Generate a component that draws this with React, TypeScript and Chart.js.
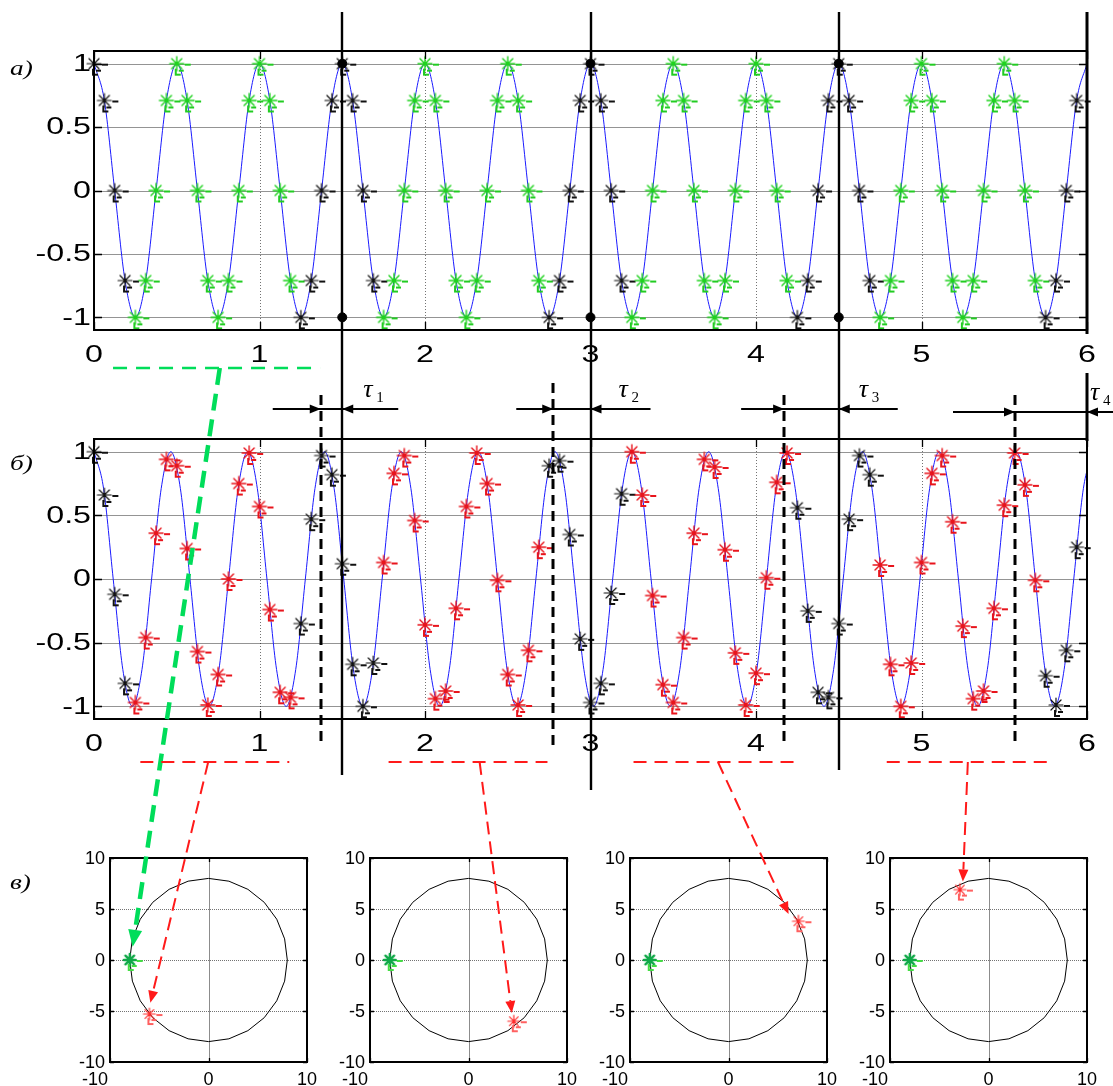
import React, { useEffect, useRef } from "react";
import { Chart, registerables } from "chart.js";

Chart.register(...registerables);

const W = 1113;
const H = 1086;

// ---------- data ----------
// sampling instants (s) shared by the markers of both signal plots
const sampleT = [
  0, 0.0625, 0.125, 0.1875, 0.25, 0.3125, 0.375, 0.4375,
  0.5, 0.5625, 0.625, 0.6875, 0.75, 0.8125, 0.875, 0.9375,
  1, 1.0625, 1.125, 1.1875, 1.25, 1.3125, 1.375, 1.4375,
  1.5, 1.5625, 1.625, 1.6875, 1.75, 1.8125, 1.875, 1.9375,
  2, 2.0625, 2.125, 2.1875, 2.25, 2.3125, 2.375, 2.4375,
  2.5, 2.5625, 2.625, 2.6875, 2.75, 2.8125, 2.875, 2.9375,
  3, 3.0625, 3.125, 3.1875, 3.25, 3.3125, 3.375, 3.4375,
  3.5, 3.5625, 3.625, 3.6875, 3.75, 3.8125, 3.875, 3.9375,
  4, 4.0625, 4.125, 4.1875, 4.25, 4.3125, 4.375, 4.4375,
  4.5, 4.5625, 4.625, 4.6875, 4.75, 4.8125, 4.875, 4.9375,
  5, 5.0625, 5.125, 5.1875, 5.25, 5.3125, 5.375, 5.4375,
  5.5, 5.5625, 5.625, 5.6875, 5.75, 5.8125, 5.875, 5.9375,
  6,
];

// plot a): reference signal (samples lie on the curve)
const topSignal = [
  1, 0.71, 0, -0.71, -1, -0.71, 0, 0.71,
  1, 0.71, 0, -0.71, -1, -0.71, 0, 0.71,
  1, 0.71, 0, -0.71, -1, -0.71, 0, 0.71,
  1, 0.71, 0, -0.71, -1, -0.71, 0, 0.71,
  1, 0.71, 0, -0.71, -1, -0.71, 0, 0.71,
  1, 0.71, 0, -0.71, -1, -0.71, 0, 0.71,
  1, 0.71, 0, -0.71, -1, -0.71, 0, 0.71,
  1, 0.71, 0, -0.71, -1, -0.71, 0, 0.71,
  1, 0.71, 0, -0.71, -1, -0.71, 0, 0.71,
  1, 0.71, 0, -0.71, -1, -0.71, 0, 0.71,
  1, 0.71, 0, -0.71, -1, -0.71, 0, 0.71,
  1, 0.71, 0, -0.71, -1, -0.71, 0, 0.71,
  1,
];

// plot б): samples of the received signal
const bottomSamples = [
  1, 0.66, -0.12, -0.82, -0.97, -0.46, 0.36, 0.94,
  0.89, 0.24, -0.57, -0.99, -0.75, 0, 0.75, 0.99,
  0.57, -0.24, -0.89, -0.93, -0.35, 0.47, 0.97, 0.82,
  0.12, -0.67, -1, -0.66, 0.13, 0.83, 0.97, 0.46,
  -0.36, -0.94, -0.88, -0.23, 0.57, 0.99, 0.75, -0.01,
  -0.75, -0.99, -0.56, 0.25, 0.89, 0.93, 0.35, -0.47,
  -0.97, -0.82, -0.11, 0.67, 1, 0.66, -0.13, -0.83,
  -0.97, -0.46, 0.36, 0.94, 0.88, 0.23, -0.58, -0.99,
  -0.74, 0.01, 0.76, 0.99, 0.56, -0.25, -0.89, -0.93,
  -0.35, 0.47, 0.97, 0.82, 0.11, -0.67, -1, -0.66,
  0.13, 0.83, 0.97, 0.45, -0.37, -0.94, -0.88, -0.23,
  0.58, 0.99, 0.74, -0.01, -0.76, -0.99, -0.56, 0.25,
];

// plot б): received signal curve (peaks, troughs, crossings read off)
const bottomWaveT = [
  0, 0.058, 0.116, 0.174, 0.232, 0.29, 0.348, 0.406,
  0.464, 0.522, 0.58, 0.638, 0.696, 0.755, 0.813, 0.871,
  0.929, 0.987, 1.045, 1.103, 1.161, 1.219, 1.277, 1.335,
  1.393, 1.451, 1.509, 1.567, 1.625, 1.683, 1.741, 1.799,
  1.857, 1.915, 1.973, 2.031, 2.089, 2.147, 2.205, 2.264,
  2.322, 2.38, 2.438, 2.496, 2.554, 2.612, 2.67, 2.728,
  2.786, 2.844, 2.902, 2.96, 3.018, 3.076, 3.134, 3.192,
  3.25, 3.308, 3.366, 3.424, 3.482, 3.54, 3.598, 3.656,
  3.714, 3.772, 3.831, 3.889, 3.947, 4.005, 4.063, 4.121,
  4.179, 4.237, 4.295, 4.353, 4.411, 4.469, 4.527, 4.585,
  4.643, 4.701, 4.759, 4.817, 4.875, 4.933, 4.991, 5.049,
  5.107, 5.165, 5.223, 5.281, 5.34, 5.398, 5.456, 5.514,
  5.572, 5.63, 5.688, 5.746, 5.804, 5.862, 5.92, 5.978,
  6.036,
];
const bottomWaveY = [
  1, 0.71, 0, -0.71, -1, -0.71, 0, 0.71,
  1, 0.71, 0, -0.71, -1, -0.71, 0, 0.71,
  1, 0.71, 0, -0.71, -1, -0.71, 0, 0.71,
  1, 0.71, 0, -0.71, -1, -0.71, 0, 0.71,
  1, 0.71, 0, -0.71, -1, -0.71, 0, 0.71,
  1, 0.71, 0, -0.71, -1, -0.71, 0, 0.71,
  1, 0.71, 0, -0.71, -1, -0.71, 0, 0.71,
  1, 0.71, 0, -0.71, -1, -0.71, 0, 0.71,
  1, 0.71, 0, -0.71, -1, -0.71, 0, 0.71,
  1, 0.71, 0, -0.71, -1, -0.71, 0, 0.71,
  1, 0.71, 0, -0.71, -1, -0.71, 0, 0.71,
  1, 0.71, 0, -0.71, -1, -0.71, 0, 0.71,
  1, 0.71, 0, -0.71, -1, -0.71, 0, 0.71,
  1,
];

const xTicks = [0, 1, 2, 3, 4, 5, 6];
const xTickLabels = ["0", "1", "2", "3", "4", "5", "6"];
const yTicks = [-1, -0.5, 0, 0.5, 1];
const yTickLabels = ["-1", "-0.5", "0", "0.5", "1"];

const segmentBounds = [1.5, 3, 4.5];
const delayMarks = [1.37, 2.775, 4.17, 5.565];
const tauSubscripts = ["1", "2", "3", "4"];

const greenWindow = [0.115, 1.366];
const greenArrowFrom = 0.76;
const redWindowsStart = [0.28, 1.78, 3.26, 4.79];
const redWindowsEnd = [1.18, 2.74, 4.24, 5.76];
const redArrowFrom = [0.69, 2.33, 3.77, 5.28];

// polar (constellation) plots
const polarXTicks = [-10, 0, 10];
const polarXTickLabels = ["-10", "0", "10"];
const polarYTicks = [-10, -5, 0, 5, 10];
const polarYTickLabels = ["-10", "-5", "0", "5", "10"];
const circleX = [8, 7.727, 6.928, 5.657, 4, 2.071, 0, -2.071, -4, -5.657, -6.928, -7.727, -8, -7.727, -6.928, -5.657, -4, -2.071, 0, 2.071, 4, 5.657, 6.928, 7.727, 8];
const circleY = [0, 2.071, 4, 5.657, 6.928, 7.727, 8, 7.727, 6.928, 5.657, 4, 2.071, 0, -2.071, -4, -5.657, -6.928, -7.727, -8, -7.727, -6.928, -5.657, -4, -2.071, 0];
const greenPointX = -8;
const greenPointY = 0;
const redPointX = [-6.0, 4.6, 7.1, -2.9];
const redPointY = [-5.3, -6.0, 3.8, 6.9];
const greenTipX = -7.7;
const greenTipY = 1.3;
const redTipX = [-5.9, 4.4, 6.1, -2.6];
const redTipY = [-4.2, -5.2, 4.5, 7.7];

// ---------- layout ----------
const TOP_CANVAS = { left: 0, top: 0, w: W, h: 380 };
const BOT_CANVAS = { left: 0, top: 390, w: W, h: 390 };
const POLAR_LEFT = [50, 310, 570, 830];
const POLAR_TOP = 840;
const POLAR_W = 285;
const POLAR_H = 246;

const SANS = '"Liberation Sans", Arial, sans-serif';
const SERIF = '"Liberation Serif", "Times New Roman", serif';

function makeStar(color: string, r: number, lw: number, tailColor: string | null) {
  const c = document.createElement("canvas");
  c.width = 38;
  c.height = 38;
  const g = c.getContext("2d")!;
  const cx = 19, cy = 19;
  g.strokeStyle = color;
  g.lineWidth = lw;
  g.lineCap = "round";
  g.beginPath();
  g.moveTo(cx - r, cy); g.lineTo(cx + r, cy);
  g.moveTo(cx, cy - r); g.lineTo(cx, cy + r);
  const d = r * 0.72;
  g.moveTo(cx - d, cy - d); g.lineTo(cx + d, cy + d);
  g.moveTo(cx - d, cy + d); g.lineTo(cx + d, cy - d);
  g.stroke();
  if (tailColor) {
    g.strokeStyle = tailColor;
    g.lineWidth = 2;
    g.lineCap = "butt";
    g.beginPath();
    g.moveTo(cx + r + 1, cy + 1); g.lineTo(cx + r + 7, cy + 1);
    g.moveTo(cx - 1, cy + r - 2); g.lineTo(cx - 1, cy + r + 4); g.lineTo(cx + 4, cy + r + 4);
    g.moveTo(cx + 2, cy + r); g.lineTo(cx + 7, cy + r);
    g.stroke();
  }
  return c;
}

function drawScaledText(ctx: CanvasRenderingContext2D, t: string, x: number, y: number, sx: number, align: CanvasTextAlign, base: CanvasTextBaseline) {
  ctx.save();
  ctx.translate(x, y);
  ctx.scale(sx, 1);
  ctx.textAlign = align;
  ctx.textBaseline = base;
  ctx.fillText(t, 0, 0);
  ctx.restore();
}

type AxesCfg = {
  xTicks: number[]; xLabels: string[]; xAlign: CanvasTextAlign[]; xShift: number[];
  yTicks: number[]; yLabels: string[];
  xGrid: number[]; yGrid: number[];
  font: string; sx: number; xLabelDy: number; yLabelDx: number;
  tickLen: number; hGridColor: string; hDash: number[]; vGridColor: string; vDash: number[];
};

function axesPlugin(cfg: AxesCfg) {
  return {
    id: "matlabAxes",
    beforeDatasetsDraw(chart: any) {
      const { ctx, chartArea: a, scales } = chart;
      const x = scales.x, y = scales.y;
      ctx.save();
      ctx.lineWidth = 1;
      ctx.strokeStyle = cfg.vGridColor;
      ctx.setLineDash(cfg.vDash);
      for (const v of cfg.xGrid) {
        const px = Math.round(x.getPixelForValue(v)) + 0.5;
        ctx.beginPath(); ctx.moveTo(px, a.top); ctx.lineTo(px, a.bottom); ctx.stroke();
      }
      ctx.strokeStyle = cfg.hGridColor;
      ctx.setLineDash(cfg.hDash);
      for (const v of cfg.yGrid) {
        const py = Math.round(y.getPixelForValue(v)) + 0.5;
        ctx.beginPath(); ctx.moveTo(a.left, py); ctx.lineTo(a.right, py); ctx.stroke();
      }
      ctx.restore();
    },
    afterDatasetsDraw(chart: any) {
      const { ctx, chartArea: a, scales } = chart;
      const x = scales.x, y = scales.y;
      ctx.save();
      ctx.strokeStyle = "#000";
      ctx.lineWidth = 1.3;
      ctx.setLineDash([]);
      for (const v of cfg.xTicks) {
        const px = Math.round(x.getPixelForValue(v)) + 0.5;
        ctx.beginPath();
        ctx.moveTo(px, a.bottom); ctx.lineTo(px, a.bottom - cfg.tickLen);
        ctx.moveTo(px, a.top); ctx.lineTo(px, a.top + cfg.tickLen);
        ctx.stroke();
      }
      for (const v of cfg.yTicks) {
        const py = Math.round(y.getPixelForValue(v)) + 0.5;
        ctx.beginPath();
        ctx.moveTo(a.left, py); ctx.lineTo(a.left + cfg.tickLen, py);
        ctx.moveTo(a.right, py); ctx.lineTo(a.right - cfg.tickLen, py);
        ctx.stroke();
      }
      ctx.lineWidth = 2;
      ctx.strokeRect(a.left, a.top, a.right - a.left, a.bottom - a.top);
      ctx.fillStyle = "#000";
      ctx.font = cfg.font;
      cfg.xTicks.forEach((v, i) => {
        drawScaledText(ctx, cfg.xLabels[i], x.getPixelForValue(v) + cfg.xShift[i], a.bottom + cfg.xLabelDy, cfg.sx, cfg.xAlign[i], "alphabetic");
      });
      cfg.yTicks.forEach((v, i) => {
        drawScaledText(ctx, cfg.yLabels[i], a.left - cfg.yLabelDx, y.getPixelForValue(v) + 1, cfg.sx, "right", "middle");
      });
      ctx.restore();
    },
  };
}

function mainAxesCfg(): AxesCfg {
  return {
    xTicks, xLabels: xTickLabels, xAlign: xTicks.map(() => "center" as CanvasTextAlign), xShift: xTicks.map(() => 0),
    yTicks, yLabels: yTickLabels,
    xGrid: [1, 2, 3, 4, 5], yGrid: yTicks,
    font: `23px ${SANS}`, sx: 1.4, xLabelDy: 32, yLabelDx: 3, tickLen: 8,
    hGridColor: "rgba(0,0,0,0.42)", hDash: [], vGridColor: "rgba(0,0,0,0.55)", vDash: [1, 2],
  };
}

function arrow(ctx: CanvasRenderingContext2D, x0: number, y0: number, x1: number, y1: number, color: string, lw: number, dash: number[], headLen: number, headHalf: number) {
  const ang = Math.atan2(y1 - y0, x1 - x0);
  const bx = x1 - Math.cos(ang) * headLen;
  const by = y1 - Math.sin(ang) * headLen;
  ctx.save();
  ctx.strokeStyle = color;
  ctx.lineWidth = lw;
  ctx.setLineDash(dash);
  ctx.beginPath(); ctx.moveTo(x0, y0); ctx.lineTo(bx, by); ctx.stroke();
  ctx.setLineDash([]);
  ctx.fillStyle = color;
  ctx.beginPath();
  ctx.moveTo(x1, y1);
  ctx.lineTo(bx + Math.sin(ang) * headHalf, by - Math.cos(ang) * headHalf);
  ctx.lineTo(bx - Math.sin(ang) * headHalf, by + Math.cos(ang) * headHalf);
  ctx.closePath();
  ctx.fill();
  ctx.restore();
}

function line(ctx: CanvasRenderingContext2D, x0: number, y0: number, x1: number, y1: number) {
  ctx.beginPath(); ctx.moveTo(x0, y0); ctx.lineTo(x1, y1); ctx.stroke();
}

export default function App() {
  const topRef = useRef<HTMLCanvasElement>(null);
  const botRef = useRef<HTMLCanvasElement>(null);
  const p0 = useRef<HTMLCanvasElement>(null);
  const p1 = useRef<HTMLCanvasElement>(null);
  const p2 = useRef<HTMLCanvasElement>(null);
  const p3 = useRef<HTMLCanvasElement>(null);
  const ovRef = useRef<HTMLCanvasElement>(null);

  useEffect(() => {
    const charts: Chart[] = [];
    const blackStar = makeStar("#111", 7, 1.2, "#111");
    const greenStar = makeStar("#1fd21f", 7, 1.4, "#22cc22");
    const redStar = makeStar("#e8141c", 7, 1.4, "#e8141c");
    const polarGreen = makeStar("#10a848", 6, 2.4, "#44dd44");
    const polarRed = makeStar("#ff2a2a", 6, 1.2, "#ff6060");

    const edgeOrMid = (mid: HTMLCanvasElement) => (c: any) => {
      const k = c.dataIndex % 24;
      return k < 4 || k >= 20 ? blackStar : mid;
    };

    const baseOpts = (pad: any, xmin: number, xmax: number, ymin: number, ymax: number) => ({
      responsive: false,
      animation: false as const,
      events: [] as any[],
      layout: { padding: pad },
      plugins: { legend: { display: false }, tooltip: { enabled: false } },
      scales: {
        x: { type: "linear" as const, min: xmin, max: xmax, display: false },
        y: { type: "linear" as const, min: ymin, max: ymax, display: false },
      },
    });

    // plot a)
    const top = new Chart(topRef.current!, {
      type: "scatter",
      data: {
        datasets: [
          {
            data: [1.5, 1.5, 3, 3, 4.5, 4.5].map((t, i) => ({ x: t, y: i % 2 === 0 ? 1 : -1 })),
            pointStyle: "circle", pointRadius: 4.5, backgroundColor: "#000", borderColor: "#000",
            order: 0, clip: false,
          } as any,
          {
            data: sampleT.slice(0, 96).map((t, i) => ({ x: t, y: topSignal[i] })),
            pointStyle: edgeOrMid(greenStar), pointRadius: 7, order: 1, clip: false,
          } as any,
          {
            data: sampleT.map((t, i) => ({ x: t, y: topSignal[i] })),
            showLine: true, pointRadius: 0, borderColor: "#1a1aff", borderWidth: 1,
            cubicInterpolationMode: "monotone", order: 3,
          } as any,
        ],
      },
      options: baseOpts({ left: 94, right: 26, top: 51, bottom: 50 }, 0, 6, -1.1, 1.1) as any,
      plugins: [axesPlugin(mainAxesCfg())],
    });
    charts.push(top);

    // plot б)
    const bot = new Chart(botRef.current!, {
      type: "scatter",
      data: {
        datasets: [
          {
            data: sampleT.slice(0, 96).map((t, i) => ({ x: t, y: bottomSamples[i] })),
            pointStyle: edgeOrMid(redStar), pointRadius: 7, order: 1, clip: false,
          } as any,
          {
            data: bottomWaveT.map((t, i) => ({ x: t, y: bottomWaveY[i] })),
            showLine: true, pointRadius: 0, borderColor: "#1a1aff", borderWidth: 1,
            cubicInterpolationMode: "monotone", order: 3,
          } as any,
        ],
      },
      options: baseOpts({ left: 94, right: 26, top: 49, bottom: 61 }, 0, 6, -1.1, 1.1) as any,
      plugins: [axesPlugin(mainAxesCfg())],
    });
    charts.push(bot);

    // constellation plots в)
    const polarRefs = [p0, p1, p2, p3];
    const polars: Chart[] = polarRefs.map((r, i) => {
      const ch = new Chart(r.current!, {
        type: "scatter",
        data: {
          datasets: [
            {
              data: [{ x: greenPointX, y: greenPointY }],
              pointStyle: polarGreen, pointRadius: 6, order: 0, clip: false,
            } as any,
            {
              data: [{ x: redPointX[i], y: redPointY[i] }],
              pointStyle: polarRed, pointRadius: 6, order: 1, clip: false,
            } as any,
            {
              data: circleX.map((cx, j) => ({ x: cx, y: circleY[j] })),
              showLine: true, pointRadius: 0, borderColor: "#000", borderWidth: 1, tension: 0, order: 3,
            } as any,
          ],
        },
        options: baseOpts({ left: 60, right: POLAR_W - 60 - 197, top: 18, bottom: 24 }, -10, 10, -10, 10) as any,
        plugins: [
          axesPlugin({
            xTicks: polarXTicks, xLabels: polarXTickLabels, xAlign: ["right", "center", "center"], xShift: [-2, 0, 0],
            yTicks: polarYTicks, yLabels: polarYTickLabels,
            xGrid: [0], yGrid: [-5, 0, 5],
            font: `18px ${SANS}`, sx: 1.0, xLabelDy: 23, yLabelDx: 5, tickLen: 4,
            hGridColor: "rgba(0,0,0,0.55)", hDash: [1, 1], vGridColor: "rgba(0,0,0,0.45)", vDash: [],
          }),
        ],
      });
      charts.push(ch);
      return ch;
    });

    // ---------- overlay annotations ----------
    const ov = ovRef.current!.getContext("2d")!;
    ov.clearRect(0, 0, W, H);
    const tx = (v: number) => top.scales.x.getPixelForValue(v) + TOP_CANVAS.left;
    const bx = (v: number) => bot.scales.x.getPixelForValue(v) + BOT_CANVAS.left;
    const topBottom = top.chartArea.bottom + TOP_CANVAS.top;
    const botTop = bot.chartArea.top + BOT_CANVAS.top;
    const botBottom = bot.chartArea.bottom + BOT_CANVAS.top;
    const px = (i: number, v: number) => polars[i].scales.x.getPixelForValue(v) + POLAR_LEFT[i];
    const py = (i: number, v: number) => polars[i].scales.y.getPixelForValue(v) + POLAR_TOP;

    ov.strokeStyle = "#000";
    ov.fillStyle = "#000";
    // segment boundaries
    ov.lineWidth = 2.4;
    const boundEnds = [56, 71, 51];
    segmentBounds.forEach((b, i) => {
      const x = Math.round(tx(b));
      line(ov, x, 12, x, botBottom + boundEnds[i]);
    });
    const x6 = tx(6);
    ov.lineWidth = 3;
    line(ov, x6, 12, x6, topBottom + 4);
    line(ov, x6, 373, x6, botTop + 2);

    // delay markers (dashed)
    ov.save();
    ov.lineWidth = 3;
    ov.setLineDash([10, 6]);
    const dashTops = [395, 383, 395, 395];
    delayMarks.forEach((d, i) => {
      const x = Math.round(bx(d));
      line(ov, x, dashTops[i], x, botBottom + 26);
    });
    ov.restore();

    // tau arrows
    const leftLen = [48, 37, 43, 62];
    const rightLen = [56, 60, 59, 40];
    const arrowY = [409, 409, 409, 412];
    const tauDx = [21, 28, 20, 3];
    const tauBase = [397, 397, 397, 400];
    delayMarks.forEach((d, i) => {
      const xd = bx(d);
      const xs = i < 3 ? tx(segmentBounds[i]) : x6;
      const y = arrowY[i];
      ov.lineWidth = 2;
      line(ov, xd - leftLen[i], y, xs + rightLen[i], y);
      arrow(ov, xd - 12, y, xd, y, "#000", 2, [], 11, 4.5);
      arrow(ov, xs + 12, y, xs, y, "#000", 2, [], 11, 4.5);
      const lx = xs + tauDx[i];
      ov.fillStyle = "#000";
      ov.font = `italic 26px ${SERIF}`;
      ov.textAlign = "left";
      ov.textBaseline = "alphabetic";
      ov.fillText("\u03c4", lx, tauBase[i]);
      ov.font = `15px ${SERIF}`;
      ov.fillText(tauSubscripts[i], lx + 13, tauBase[i] + 5);
    });

    // green window and arrow
    const gy = topBottom + 38;
    ov.save();
    ov.strokeStyle = "#00dd5a";
    ov.lineWidth = 2.5;
    ov.setLineDash([14, 9]);
    line(ov, tx(greenWindow[0]), gy, tx(greenWindow[1]), gy);
    ov.restore();
    arrow(ov, tx(greenArrowFrom), gy, px(0, greenTipX), py(0, greenTipY), "#00dd5a", 4.5, [17, 9], 17, 7);

    // red windows and arrows
    const ry = botBottom + 43;
    redWindowsStart.forEach((s, i) => {
      ov.save();
      ov.strokeStyle = "#ff1a1a";
      ov.lineWidth = 2;
      ov.setLineDash([13, 8]);
      line(ov, bx(s), ry, bx(redWindowsEnd[i]), ry);
      ov.restore();
      arrow(ov, bx(redArrowFrom[i]), ry, px(i, redTipX[i]), py(i, redTipY[i]), "#ff1a1a", 2, [13, 7], 12, 5);
    });

    // panel letters
    ov.fillStyle = "#000";
    ov.font = `italic 21px ${SERIF}`;
    drawScaledText(ov, "а)", 10, 75, 1.3, "left", "alphabetic");
    drawScaledText(ov, "б)", 10, 470, 1.3, "left", "alphabetic");
    drawScaledText(ov, "в)", 10, 889, 1.3, "left", "alphabetic");

    return () => {
      charts.forEach((c) => c.destroy());
    };
  }, []);

  const abs = (l: number, t: number): React.CSSProperties => ({ position: "absolute", left: l, top: t });

  return (
    <div style={{ position: "absolute", left: 0, top: 0, width: W, height: H, background: "#fff", overflow: "hidden" }}>
      <canvas ref={topRef} width={TOP_CANVAS.w} height={TOP_CANVAS.h} style={{ ...abs(TOP_CANVAS.left, TOP_CANVAS.top), width: TOP_CANVAS.w, height: TOP_CANVAS.h }} />
      <canvas ref={botRef} width={BOT_CANVAS.w} height={BOT_CANVAS.h} style={{ ...abs(BOT_CANVAS.left, BOT_CANVAS.top), width: BOT_CANVAS.w, height: BOT_CANVAS.h }} />
      <canvas ref={p0} width={POLAR_W} height={POLAR_H} style={{ ...abs(POLAR_LEFT[0], POLAR_TOP), width: POLAR_W, height: POLAR_H }} />
      <canvas ref={p1} width={POLAR_W} height={POLAR_H} style={{ ...abs(POLAR_LEFT[1], POLAR_TOP), width: POLAR_W, height: POLAR_H }} />
      <canvas ref={p2} width={POLAR_W} height={POLAR_H} style={{ ...abs(POLAR_LEFT[2], POLAR_TOP), width: POLAR_W, height: POLAR_H }} />
      <canvas ref={p3} width={POLAR_W} height={POLAR_H} style={{ ...abs(POLAR_LEFT[3], POLAR_TOP), width: POLAR_W, height: POLAR_H }} />
      <canvas ref={ovRef} width={W} height={H} style={{ ...abs(0, 0), width: W, height: H, pointerEvents: "none" }} />
    </div>
  );
}
